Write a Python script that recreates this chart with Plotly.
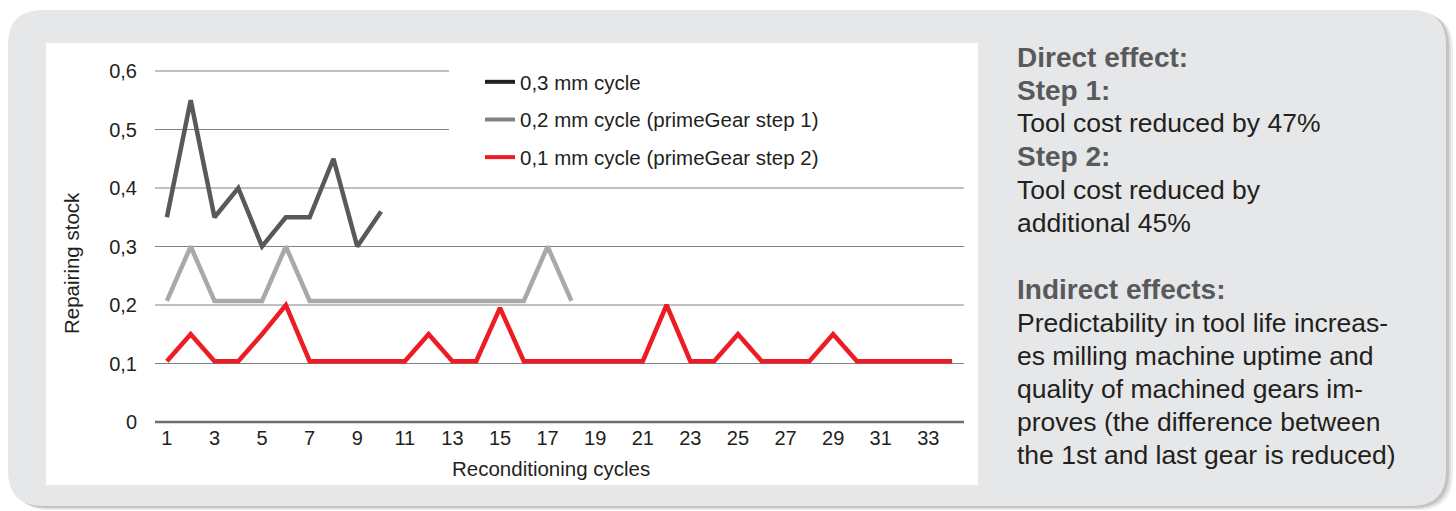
import plotly.graph_objects as go

# ---------------- data ----------------
cycles_03 = [1, 2, 3, 4, 5, 6, 7, 8, 9, 10]
stock_03 = [0.35, 0.55, 0.35, 0.40, 0.30, 0.35, 0.35, 0.45, 0.30, 0.36]

cycles_02 = [1, 2, 3, 4, 5, 6, 7, 8, 9, 10, 11, 12, 13, 14, 15, 16, 17, 18]
stock_02 = [0.207, 0.30, 0.207, 0.207, 0.207, 0.30, 0.207, 0.207, 0.207,
            0.207, 0.207, 0.207, 0.207, 0.207, 0.207, 0.207, 0.30, 0.207]

cycles_01 = [1, 2, 3, 4, 5, 6, 7, 8, 9, 10, 11, 12, 13, 14, 15, 16, 17,
             18, 19, 20, 21, 22, 23, 24, 25, 26, 27, 28, 29, 30, 31, 32, 33, 34]
stock_01 = [0.104, 0.15, 0.104, 0.104, 0.15, 0.20, 0.104, 0.104, 0.104, 0.104,
            0.104, 0.15, 0.104, 0.104, 0.195, 0.104, 0.104, 0.104, 0.104, 0.104,
            0.104, 0.20, 0.104, 0.104, 0.15, 0.104, 0.104, 0.104, 0.15, 0.104,
            0.104, 0.104, 0.104, 0.104]

series_names = ["0,3 mm cycle", "0,2 mm cycle (primeGear step 1)", "0,1 mm cycle (primeGear step 2)"]

x_tickvals = [1, 3, 5, 7, 9, 11, 13, 15, 17, 19, 21, 23, 25, 27, 29, 31, 33]
x_ticktext = ["1", "3", "5", "7", "9", "11", "13", "15", "17", "19", "21",
              "23", "25", "27", "29", "31", "33"]
y_tickvals = [0, 0.1, 0.2, 0.3, 0.4, 0.5, 0.6]
y_ticktext = ["0", "0,1", "0,2", "0,3", "0,4", "0,5", "0,6"]

panel_lines = [
    ("Direct effect:", True),
    ("Step 1:", True),
    ("Tool cost reduced by 47%", False),
    ("Step 2:", True),
    ("Tool cost reduced by", False),
    ("additional 45%", False),
    ("", False),
    ("Indirect effects:", True),
    ("Predictability in tool life increas-", False),
    ("es milling machine uptime and", False),
    ("quality of machined gears im-", False),
    ("proves (the difference between", False),
    ("the 1st and last gear is reduced)", False),
]

# ---------------- layout geometry (pixels) ----------------
W, H = 1456, 511
L, R, T, B = 155, 964, 71, 422
YMIN, YMAX = 0.0, 0.6

FONT = "Liberation Sans, Arial, Helvetica, sans-serif"
TXT = "#231f20"
DARK = "#58595b"
GREY = "#a7a9ac"
RED = "#ed1c24"


def px(x):
    return (x - L) / (R - L)


def py(y):
    return (B - y) / (B - T)


def rounded_path(x0, y0, x1, y1, r):
    pts = [
        ("M", [(x0 + r, y0)]),
        ("L", [(x1 - r, y0)]),
        ("Q", [(x1, y0), (x1, y0 + r)]),
        ("L", [(x1, y1 - r)]),
        ("Q", [(x1, y1), (x1 - r, y1)]),
        ("L", [(x0 + r, y1)]),
        ("Q", [(x0, y1), (x0, y1 - r)]),
        ("L", [(x0, y0 + r)]),
        ("Q", [(x0, y0), (x0 + r, y0)]),
    ]
    s = ""
    for cmd, ps in pts:
        s += cmd + " " + " ".join(f"{px(a):.5f},{py(b):.5f}" for a, b in ps) + " "
    return s + "Z"


shapes = []
# shadow
for off, op in [(7, 0.10), (5, 0.15), (3, 0.22)]:
    shapes.append(dict(type="path", xref="paper", yref="paper", layer="below",
                       path=rounded_path(8 + off, 10 + off * 0.5, 1446 + off, 506 + off * 0.6, 35),
                       fillcolor="#6d6e71", opacity=op, line=dict(width=0)))
# grey panel
shapes.append(dict(type="path", xref="paper", yref="paper", layer="below",
                   path=rounded_path(8, 10, 1446, 506, 35),
                   fillcolor="#e6e7e8", line=dict(width=0)))
# white chart area
shapes.append(dict(type="rect", xref="paper", yref="paper", layer="below",
                   x0=px(46), x1=px(978), y0=py(485), y1=py(43),
                   fillcolor="white", line=dict(width=0)))
# gridlines
for v in y_tickvals[1:]:
    yp = (v - YMIN) / (YMAX - YMIN)
    xend = px(449) if v >= 0.5 else 1
    shapes.append(dict(type="line", xref="paper", yref="paper", layer="below",
                       x0=0, x1=xend, y0=yp, y1=yp,
                       line=dict(color="#808285", width=1)))
# baseline
shapes.append(dict(type="line", xref="paper", yref="paper", layer="below",
                   x0=0, x1=1, y0=0, y1=0, line=dict(color="#6d6e71", width=2.5)))

fig = go.Figure()
fig.add_trace(go.Scatter(x=cycles_03, y=stock_03, mode="lines", showlegend=False,
                         line=dict(color=DARK, width=4.5)))
fig.add_trace(go.Scatter(x=cycles_02, y=stock_02, mode="lines", showlegend=False,
                         line=dict(color=GREY, width=4.5)))
fig.add_trace(go.Scatter(x=cycles_01, y=stock_01, mode="lines", showlegend=False,
                         line=dict(color=RED, width=4.5)))

legend_colors = ["#231f20", "#808285", RED]
for i, (nm, c) in enumerate(zip(series_names, legend_colors)):
    fig.add_trace(go.Scatter(x=[None], y=[None], mode="lines", name=nm,
                             legendgroup=f"g{i}", line=dict(color=c, width=4)))

annotations = []
annotations.append(dict(text="Repairing stock", xref="paper", yref="paper",
                        x=px(71), y=py(263), textangle=-90, showarrow=False,
                        xanchor="center", yanchor="middle",
                        font=dict(family=FONT, size=20.5, color=TXT)))
annotations.append(dict(text="Reconditioning cycles", xref="paper", yref="paper",
                        x=px(551), y=py(468), showarrow=False,
                        xanchor="center", yanchor="middle",
                        font=dict(family=FONT, size=20.5, color=TXT)))

y0_line, dy_line = 57, 33.2
for i, (t, bold) in enumerate(panel_lines):
    if not t:
        continue
    yc = y0_line + i * dy_line
    if bold:
        annotations.append(dict(text=f"<b>{t}</b>", xref="paper", yref="paper",
                                x=px(1015), y=py(yc), showarrow=False,
                                xanchor="left", yanchor="middle",
                                font=dict(family=FONT, size=28, color=DARK)))
    else:
        annotations.append(dict(text=t, xref="paper", yref="paper",
                                x=px(1015), y=py(yc), showarrow=False,
                                xanchor="left", yanchor="middle",
                                font=dict(family=FONT, size=26.5, color=TXT)))

fig.update_layout(
    width=W, height=H,
    margin=dict(l=L, r=W - R, t=T, b=H - B, pad=0),
    paper_bgcolor="white", plot_bgcolor="rgba(0,0,0,0)",
    shapes=shapes, annotations=annotations,
    font=dict(family=FONT, size=20, color=TXT),
    showlegend=True,
    legend=dict(x=px(480), y=py(62), xanchor="left", yanchor="top",
                bgcolor="rgba(0,0,0,0)", font=dict(family=FONT, size=20.5, color=TXT),
                traceorder="grouped", tracegroupgap=8, itemwidth=30),
    xaxis=dict(range=[0.5, 34.5], tickmode="array", tickvals=x_tickvals,
               ticktext=x_ticktext, showgrid=False, zeroline=False, showline=False,
               ticks="", tickfont=dict(family=FONT, size=20, color=TXT),
               ticklabelstandoff=2, fixedrange=True),
    yaxis=dict(range=[YMIN, YMAX], tickmode="array", tickvals=y_tickvals,
               ticktext=y_ticktext, showgrid=False, zeroline=False, showline=False,
               ticks="", tickfont=dict(family=FONT, size=20, color=TXT),
               ticklabelstandoff=17, fixedrange=True),
)

post = ("document.body.style.margin='0';"
        "document.querySelectorAll('.scatterlayer path.js-line').forEach(function(p){"
        "p.style.strokeLinejoin='miter';});")
fig.write_html("out.html", config={"displayModeBar": False}, post_script=post)
